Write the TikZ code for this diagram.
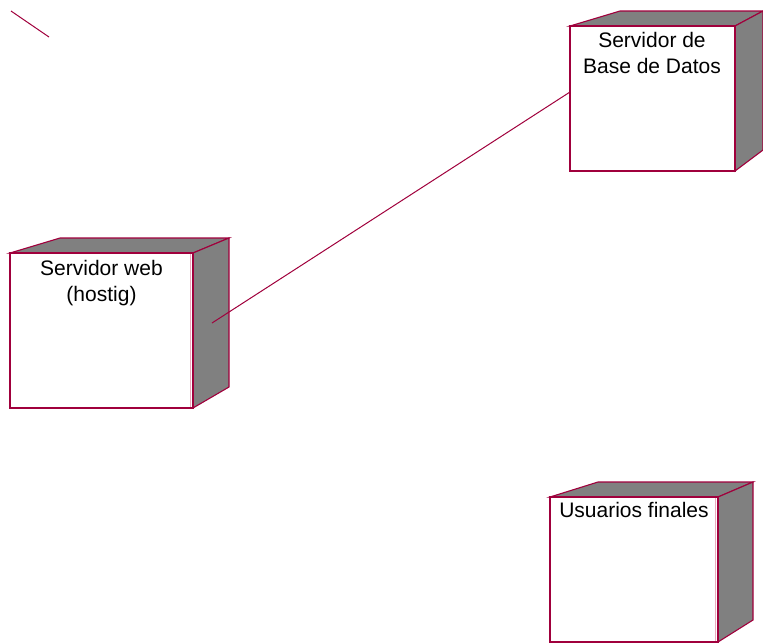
\documentclass[tikz,border=0pt]{standalone}
\usepackage{fontspec}
\setmainfont{Liberation Sans}
\definecolor{edge}{RGB}{160,0,60}
\definecolor{shade}{RGB}{128,128,128}
\definecolor{inner}{RGB}{235,170,190}
\tikzset{
  nodeline/.style={draw=edge, line width=1.1pt, line join=miter},
  face/.style={nodeline, fill=white},
  side/.style={nodeline, fill=shade},
  label/.style={inner sep=0pt, anchor=north, align=center, font=\fontsize{21}{26}\selectfont},
  link/.style={draw=edge, line width=1pt},
}
\begin{document}
\begin{tikzpicture}[x=1pt, y=-1pt]
\useasboundingbox (0,0) rectangle (763,643);

% Servidor web (hostig)
\fill[side] (10,253) -- (60,238) -- (229,238) -- (193,253) -- cycle;
\fill[side] (193,253) -- (229,238) -- (229,387) -- (193,408) -- cycle;
\draw[face] (10,253) rectangle (193,408);
\draw[inner, line width=0.8pt] (190,254) -- (190,407);
\node[label] (web) at (101.5,260) {Servidor web\\(hostig)};
\coordinate (webend) at (212,323);

% Servidor de Base de Datos
\fill[side] (570,26) -- (620,11) -- (763,11) -- (735,26) -- cycle;
\fill[side] (735,26) -- (763,11) -- (763,150) -- (735,171) -- cycle;
\draw[face] (570,26) rectangle (735,171);
\node[label] (db) at (652,32) {Servidor de\\Base de Datos};
\coordinate (dbend) at (570,92);

% Usuarios finales
\fill[side] (550,497) -- (598,482) -- (753,482) -- (718,497) -- cycle;
\fill[side] (718,497) -- (753,482) -- (753,620) -- (718,642) -- cycle;
\draw[face] (550,497) rectangle (718,642);
\draw[inner, line width=0.8pt] (715,498) -- (715,641);
\node[label] (users) at (634,502) {Usuarios finales};

% association between the servers
\draw[link] (webend) -- (dbend);

% stray segment
\coordinate (s1) at (11,11);
\coordinate (s2) at (49,37);
\draw[link] (s1) -- (s2);
\end{tikzpicture}
\end{document}
